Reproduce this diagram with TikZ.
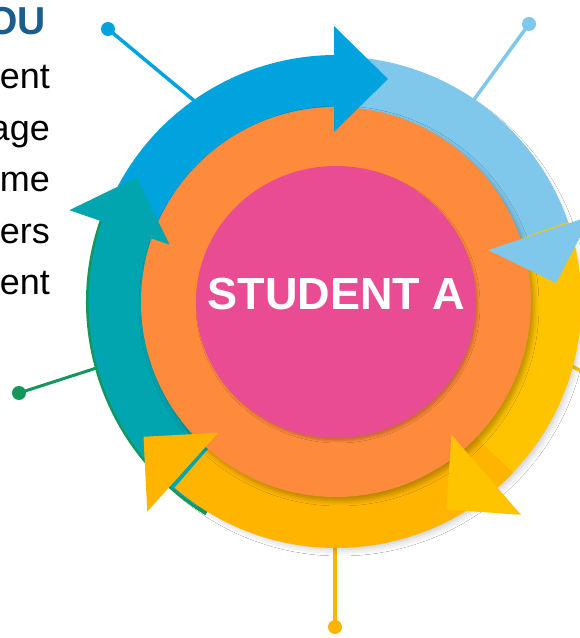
\documentclass[tikz,border=0pt]{standalone}
\usepackage{fontspec}
\setmainfont{Liberation Sans}
\usetikzlibrary{shadows.blur}
\definecolor{cPink}{HTML}{EA4C94}
\definecolor{cOrange}{HTML}{FE8A3C}
\definecolor{cBlue}{HTML}{00A3DD}
\definecolor{cLight}{HTML}{7FC8EC}
\definecolor{cTeal}{HTML}{00A5B0}
\definecolor{cGreen}{HTML}{14975A}
\definecolor{cYelR}{HTML}{FFC400}
\definecolor{cYelB}{HTML}{FFB500}
\definecolor{cNavy}{HTML}{1B5E8E}
\newcommand\ringband[5]{\fill[#1] (#2:#5) arc[start angle=#2, end angle=#3, radius=#5] -- (#3:#4) arc[start angle=#3, end angle=#2, radius=#4] -- cycle;}
\newcommand\arrowhd[2]{\fill[#1] (#2:176) -- (#2:282) -- ({#2-13}:235) -- cycle;}
\tikzset{
  dot/.style={circle, inner sep=0pt, minimum size=14pt},
  conn/.style={line width=3.5pt},
  sh/.style={blur shadow={shadow xshift=4pt, shadow yshift=-6pt, shadow blur radius=7pt, shadow opacity=25}},
  shorange/.style={blur shadow={shadow xshift=3pt, shadow yshift=-4pt, shadow blur radius=5pt, shadow opacity=28}},
  shsmall/.style={blur shadow={shadow xshift=2pt, shadow yshift=-3pt, shadow blur radius=2pt, shadow opacity=20}},
  bodytext/.style={anchor=base east, inner sep=0pt, font=\fontsize{36}{36}\selectfont},
}
\begin{document}
\begin{tikzpicture}[x=1pt,y=1pt]
\useasboundingbox (0,0) rectangle (580,638);
\clip (0,0) rectangle (580,638);
\fill[white] (0,0) rectangle (580,638);

% left texts
\node[anchor=base east, inner sep=0pt, font=\bfseries\fontsize{39}{39}\selectfont, text=cNavy] (title) at (46,603) {OU};
\node[bodytext] (l1) at (50,549) {ent};
\node[bodytext] (l2) at (50,497.5) {age};
\node[bodytext] (l3) at (50,446) {me};
\node[bodytext] (l4) at (50,394.5) {ers};
\node[bodytext] (l5) at (50,343) {ent};

% connectors with dots
\node[dot, fill=cBlue] (dBlue) at (108,609) {};
\coordinate (eBlue) at (215,520);
\draw[conn, cBlue] (dBlue.center) -- (eBlue);
\node[dot, fill=cLight] (dLight) at (529,614) {};
\coordinate (eLight) at (465,526);
\draw[conn, cLight] (dLight.center) -- (eLight);
\node[dot, fill=cGreen] (dGreen) at (19,245) {};
\coordinate (eGreen) at (112,275);
\draw[line width=3pt, cGreen] (dGreen.center) -- (eGreen);
\node[dot, fill=cYelB] (dYelB) at (335,11) {};
\coordinate (eYelB) at (335,100);
\draw[line width=4pt, cYelB] (dYelB.center) -- (eYelB);
\node[dot, fill=cYelR] (dYelR) at (612,251) {};
\coordinate (eYelR) at (560,278);
\draw[conn, cYelR] (dYelR.center) -- (eYelR);

\begin{scope}[shift={(336,336)}]
  % ring shadow base
  \fill[white, sh] (0,0) circle[radius=241];
  % bands
  \ringband{cGreen}{238.5}{160}{191}{250}
  \ringband{cTeal}{236}{161}{194}{247.5}
  \ringband{cLight}{97}{15}{190}{245.5}
  \ringband{cBlue}{160}{90.5}{190}{247}
  \ringband{cYelR}{19}{-47}{190}{245.5}
  \ringband{cYelB}{-44}{-131}{190}{246}
  % orange disk
  \fill[cOrange, shorange] (0,0) circle[radius=195];
  % arrowheads
  \arrowhd{cTeal}{161}
  \fill[cBlue] (-2,276) -- (-2,170) -- (52,223) -- cycle;
  \fill[cLight] (152,52) -- (220,19) -- (255,86) -- cycle;
  \arrowhd{cYelR}{-49}
  \arrowhd{cYelB}{-132}
  % pink disk
  \fill[cPink, shsmall] (0,0) ellipse[x radius=140, y radius=136];
  \node[inner sep=0pt, anchor=base, text=white, font=\bfseries\fontsize{45}{45}\selectfont] (student) at (0.5,-8) {STUDENT A};
\end{scope}
\end{tikzpicture}
\end{document}
